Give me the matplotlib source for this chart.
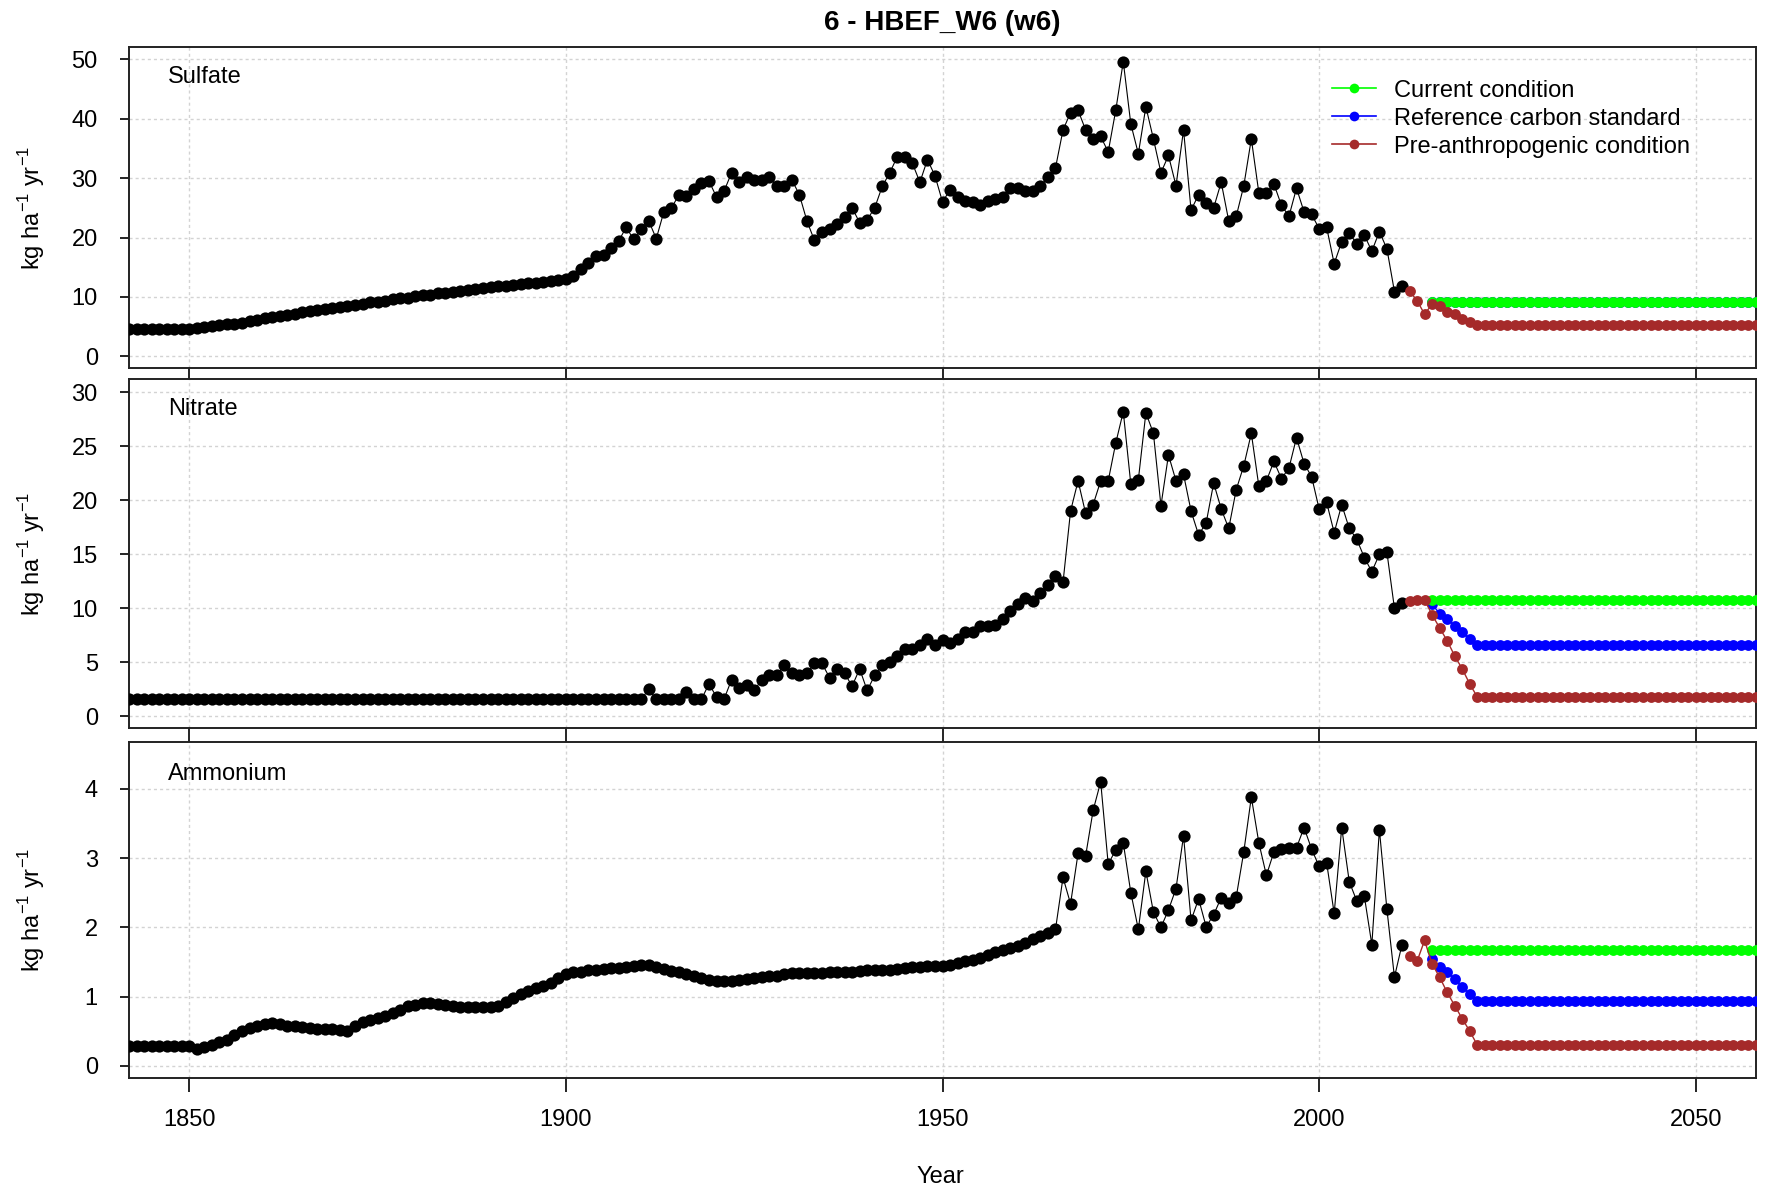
import matplotlib
matplotlib.use("Agg")
import matplotlib.pyplot as plt
from matplotlib.lines import Line2D

plt.rcParams['font.family'] = ['Liberation Sans', 'DejaVu Sans']

# ---------------- data ----------------
hist_years = list(range(1840, 2012))
future_years = list(range(2012, 2061))
scen_years = list(range(2015, 2061))

sulfate_hist = [
    4.6, 4.6, 4.6, 4.6, 4.6, 4.6, 4.6, 4.6, 4.6, 4.6, 4.6, 4.7,
    4.9, 5.1, 5.3, 5.4, 5.5, 5.7, 5.9, 6.2, 6.4, 6.6,
    6.8, 7.0, 7.2, 7.5, 7.7, 7.8, 8.0, 8.2, 8.3, 8.5,
    8.7, 8.9, 9.1, 9.2, 9.4, 9.6, 9.8, 9.9, 10.1, 10.3,
    10.4, 10.6, 10.7, 10.9, 11.0, 11.2, 11.3, 11.5, 11.6, 11.8,
    11.9, 12.0, 12.1, 12.3, 12.4, 12.6, 12.7, 12.9, 13.1, 13.6,
    14.7, 15.7, 16.9, 17.0, 18.3, 19.4, 21.7, 19.7, 21.4, 22.8,
    19.8, 24.3, 25.0, 27.1, 27.0, 28.1, 29.1, 29.5, 26.8, 27.8,
    30.9, 29.3, 30.2, 29.7, 29.7, 30.2, 28.6, 28.6, 29.7, 27.2,
    22.8, 19.5, 20.9, 21.5, 22.2, 23.5, 25.0, 22.5, 23.0, 25.0,
    28.6, 30.9, 33.6, 33.6, 32.5, 29.3, 33.1, 30.4, 26.0, 28.0,
    26.8, 26.1, 25.9, 25.4, 26.1, 26.4, 26.8, 28.3, 28.3, 27.8,
    27.8, 28.6, 30.2, 31.7, 38.1, 41.0, 41.4, 38.1, 36.6, 37.0,
    34.4, 41.4, 49.6, 39.1, 34.1, 42.0, 36.6, 30.9, 33.8, 28.7,
    38.1, 24.6, 27.2, 25.8, 25.0, 29.3, 22.8, 23.6, 28.7, 36.6,
    27.5, 27.5, 29.0, 25.4, 23.6, 28.3, 24.3, 23.9, 21.5, 21.7,
    15.6, 19.3, 20.8, 18.9, 20.4, 17.7, 21.0, 18.1, 10.9, 11.9,
]

nitrate_hist = [1.6] * 71 + [
    2.5, 1.6, 1.6, 1.6, 1.6, 2.3, 1.6, 1.6, 3.0, 1.8, 1.6,
    3.4, 2.6, 2.9, 2.4, 3.4, 3.8, 3.8, 4.8, 4.0, 3.8,
    4.0, 4.9, 4.9, 3.6, 4.4, 4.0, 2.8, 4.4, 2.4, 3.8,
    4.8, 5.0, 5.6, 6.2, 6.2, 6.6, 7.2, 6.6, 7.1, 6.8,
    7.2, 7.8, 7.8, 8.4, 8.4, 8.5, 9.0, 9.8, 10.4, 11.0,
    10.7, 11.4, 12.2, 13.0, 12.4, 19.0, 21.8, 18.8, 19.6, 21.8,
    21.8, 25.3, 28.2, 21.5, 21.9, 28.1, 26.2, 19.5, 24.2, 21.8,
    22.4, 19.0, 16.8, 17.9, 21.6, 19.2, 17.4, 21.0, 23.2, 26.2,
    21.3, 21.8, 23.6, 22.0, 23.0, 25.8, 23.4, 22.2, 19.2, 19.8,
    17.0, 19.6, 17.4, 16.4, 14.7, 13.4, 15.0, 15.2, 10.0, 10.5,
]

ammonium_hist = [0.28] * 11 + [
    0.24, 0.27, 0.30, 0.34, 0.38, 0.44, 0.50, 0.54, 0.58, 0.60,
    0.62, 0.60, 0.57, 0.57, 0.56, 0.55, 0.53, 0.53, 0.53, 0.52,
    0.50, 0.58, 0.63, 0.66, 0.69, 0.72, 0.76, 0.80, 0.86, 0.88,
    0.90, 0.90, 0.89, 0.88, 0.87, 0.85, 0.85, 0.85, 0.85, 0.85,
    0.86, 0.92, 0.98, 1.04, 1.08, 1.12, 1.15, 1.20, 1.27, 1.32,
    1.35, 1.36, 1.38, 1.38, 1.40, 1.41, 1.41, 1.43, 1.44, 1.45,
    1.45, 1.42, 1.40, 1.37, 1.35, 1.32, 1.29, 1.27, 1.24, 1.22,
    1.22, 1.22, 1.24, 1.25, 1.27, 1.28, 1.29, 1.30, 1.32, 1.34,
    1.34, 1.34, 1.34, 1.34, 1.35, 1.35, 1.36, 1.36, 1.37, 1.38,
    1.38, 1.38, 1.39, 1.40, 1.41, 1.43, 1.43, 1.44, 1.44, 1.44,
    1.46, 1.48, 1.51, 1.53, 1.56, 1.60, 1.64, 1.67, 1.70, 1.73,
    1.77, 1.83, 1.88, 1.92, 1.97, 2.72, 2.34, 3.07, 3.03, 3.69,
    4.10, 2.91, 3.12, 3.22, 2.50, 1.97, 2.81, 2.22, 2.00, 2.25,
    2.56, 3.32, 2.10, 2.41, 2.01, 2.18, 2.43, 2.35, 2.44, 3.09,
    3.88, 3.22, 2.75, 3.09, 3.13, 3.15, 3.15, 3.44, 3.13, 2.88,
    2.93, 2.20, 3.44, 2.66, 2.38, 2.45, 1.75, 3.41, 2.26, 1.28, 1.75,
]

# Pre-anthropogenic condition (2012-2060)
sulfate_pre = [11.0, 9.4, 7.1, 8.8, 8.5, 7.4, 7.1, 6.3, 5.8] + [5.3] * 40
nitrate_pre = [10.7, 10.8, 10.8, 9.4, 8.2, 7.0, 5.6, 4.4, 3.0] + [1.8] * 40
ammonium_pre = [1.59, 1.51, 1.81, 1.47, 1.28, 1.06, 0.87, 0.68, 0.50] + [0.30] * 40

# Reference carbon standard (2015-2060)
sulfate_ref = [9.1] * 46
nitrate_ref = [10.4, 9.5, 9.0, 8.4, 7.8, 7.2] + [6.6] * 40
ammonium_ref = [1.54, 1.43, 1.36, 1.25, 1.14, 1.04] + [0.93] * 40

# Current condition (2015-2060)
sulfate_cur = [9.1] * 46
nitrate_cur = [10.8] * 46
ammonium_cur = [1.67] * 46

panel_names = ["Sulfate", "Nitrate", "Ammonium"]
x_ticks = [1850, 1900, 1950, 2000, 2050]
y_ticks = [[0, 10, 20, 30, 40, 50], [0, 5, 10, 15, 20, 25, 30], [0, 1, 2, 3, 4]]
y_lims = [(-2.0, 52.0), (-1.1, 31.2), (-0.18, 4.68)]

legend_labels = ["Current condition", "Reference carbon standard", "Pre-anthropogenic condition"]

# ---------------- figure ----------------
W, H = 1766, 1187
fig = plt.figure(figsize=(W / 100, H / 100), dpi=100)

left = 129 / W
width = (1756 - 129) / W
boxes = [(47.3, 368.3), (379.3, 728.3), (741.7, 1078.3)]
label_y = [0.9087, 0.9155, 0.9046]

hist = [sulfate_hist, nitrate_hist, ammonium_hist]
pre = [sulfate_pre, nitrate_pre, ammonium_pre]
ref = [sulfate_ref, nitrate_ref, ammonium_ref]
cur = [sulfate_cur, nitrate_cur, ammonium_cur]

GREEN = "#00FF00"
BLUE = "#0000FF"
BROWN = "#A52A2A"
FS = 17

for i in range(3):
    top_px, bot_px = boxes[i]
    ax = fig.add_axes([left, 1 - bot_px / H, width, (bot_px - top_px) / H])
    ax.set_xlim(1842, 2058)
    ax.set_ylim(*y_lims[i])
    ax.set_axisbelow(True)
    ax.grid(True, color="#D3D3D3", linestyle=(0, (2.2, 2.2)), linewidth=1.0)

    ax.plot(hist_years, hist[i], color="black", lw=0.8, marker="o", ms=8.8,
            markeredgewidth=0, zorder=3)
    ax.plot(scen_years, ref[i], color=BLUE, lw=1.0, marker="o", ms=7.8,
            markeredgewidth=0, zorder=3)
    ax.plot(scen_years, cur[i], color=GREEN, lw=1.0, marker="o", ms=7.8,
            markeredgewidth=0, zorder=3)
    ax.plot(future_years, pre[i], color=BROWN, lw=1.0, marker="o", ms=7.8,
            markeredgewidth=0, zorder=3)

    ax.set_xticks(x_ticks)
    ax.set_yticks(y_ticks[i])
    ax.tick_params(axis="x", direction="out", length=10, width=1.2, pad=12,
                   labelsize=FS, labelbottom=(i == 2))
    ax.tick_params(axis="y", direction="out", length=6.5, width=1.2, pad=16,
                   labelsize=FS)
    for s in ax.spines.values():
        s.set_linewidth(1.4)
        s.set_color("#222222")

    ax.text(0.024, label_y[i], panel_names[i], transform=ax.transAxes,
            fontsize=FS, ha="left", va="center")

    fig.text(31.5 / W, 1 - (top_px + bot_px) / 2 / H,
             r"kg ha$^{\mathregular{-1}}$ yr$^{\mathregular{-1}}$",
             rotation=90, ha="center", va="center", fontsize=FS)

    if i == 0:
        handles = [
            Line2D([], [], color=GREEN, lw=1.2, marker="o", ms=7, markeredgewidth=0),
            Line2D([], [], color=BLUE, lw=1.2, marker="o", ms=7, markeredgewidth=0),
            Line2D([], [], color=BROWN, lw=1.2, marker="o", ms=7, markeredgewidth=0),
        ]
        ax.legend(handles, legend_labels, loc="upper left",
                  bbox_to_anchor=(0.7394, 0.899), frameon=False, fontsize=FS,
                  handlelength=1.86, handletextpad=0.76, labelspacing=0.25,
                  borderpad=0, borderaxespad=0)

fig.text(942 / W, 1 - 22.5 / H, "6 - HBEF_W6 (w6)", ha="center", va="center",
         fontsize=20, fontweight="bold")
fig.text(940 / W, 1 - 1177 / H, "Year", ha="center", va="center", fontsize=FS)

fig.savefig("out.png", dpi=100)
